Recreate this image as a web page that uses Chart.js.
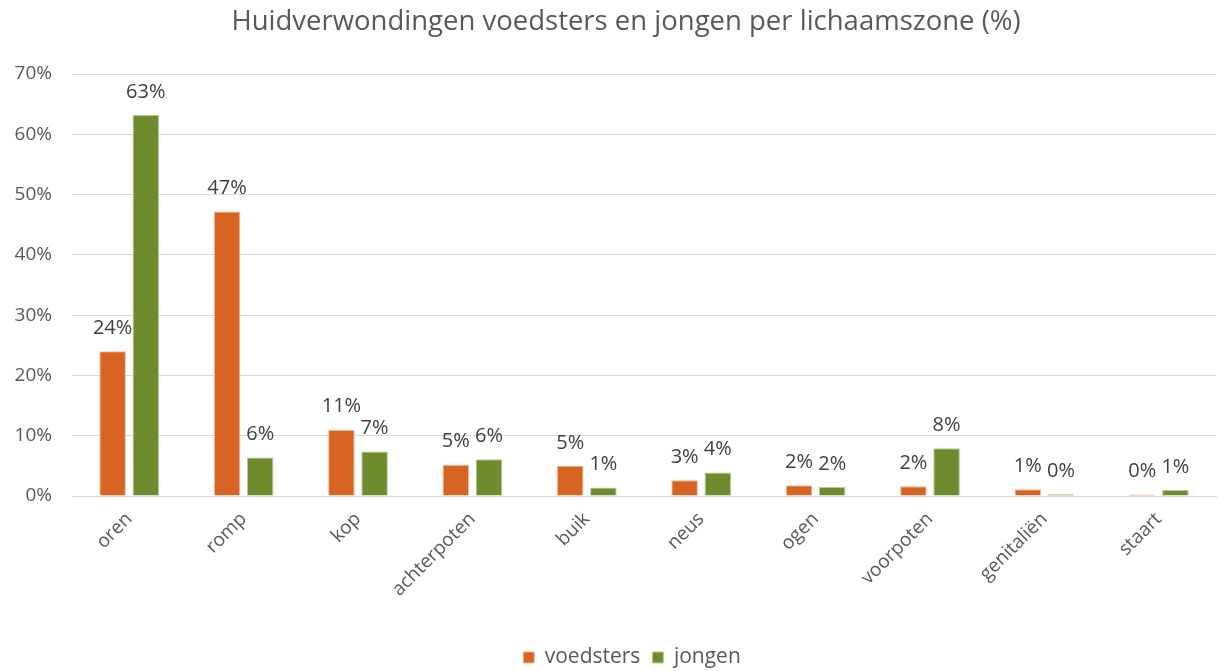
<!DOCTYPE html>
<html>
<head>
<meta charset="utf-8">
<title>Huidverwondingen</title>
<script src="https://cdn.jsdelivr.net/npm/chart.js@4/dist/chart.umd.min.js"></script>
<style>
    html, body { margin: 0; padding: 0; background: #ffffff; }
    #wrap { width: 1230px; height: 671px; }
</style>
</head>
<body>
<div id="wrap"><canvas id="chart"></canvas></div>
<script>
// Data (%)
const zones = ['oren', 'romp', 'kop', 'achterpoten', 'buik', 'neus', 'ogen', 'voorpoten', 'genitaliën', 'staart'];
const voedsters = [24.0, 47.2, 11.0, 5.2, 5.0, 2.6, 1.8, 1.6, 1.1, 0.25];
const jongen = [63.2, 6.4, 7.4, 6.1, 1.4, 3.9, 1.5, 7.9, 0.3, 1.0];
const yTicks = [0, 10, 20, 30, 40, 50, 60, 70];
const chartTitle = 'Huidverwondingen voedsters en jongen per lichaamszone (%)';

const fontFamily = "'Open Sans', 'Noto Sans', sans-serif";
const grey = '#595959';

// Value labels above the bars + title (centred like the original, a bit right of the canvas centre)
const valueLabels = {
    id: 'valueLabels',
    afterLayout(chart) {
        // legend in the original sits a little right of centre
        chart.legend.left += 24;
        chart.legend.right += 24;
    },
    afterDatasetsDraw(chart) {
        const ctx = chart.ctx;
        ctx.save();
        ctx.font = '20px ' + fontFamily;
        ctx.fillStyle = '#404040';
        ctx.textAlign = 'center';
        ctx.textBaseline = 'bottom';
        chart.data.datasets.forEach((ds, i) => {
            const meta = chart.getDatasetMeta(i);
            meta.data.forEach((bar, j) => {
                ctx.fillText(Math.round(ds.data[j]) + '%', bar.x, bar.y - 13);
            });
        });
        ctx.font = '27.5px ' + fontFamily;
        ctx.fillStyle = grey;
        ctx.textBaseline = 'middle';
        ctx.fillText(chartTitle, 626, 22);
        ctx.restore();
    }
};

new Chart(document.getElementById('chart'), {
    type: 'bar',
    data: {
        labels: zones,
        datasets: [{
            label: 'voedsters',
            data: voedsters,
            backgroundColor: '#D86423',
            borderColor: '#F0B89A',
            borderWidth: 1,
            barPercentage: 0.8,
            categoryPercentage: 0.58
        }, {
            label: 'jongen',
            data: jongen,
            backgroundColor: '#6E8C2D',
            borderColor: '#B5C894',
            borderWidth: 1,
            barPercentage: 0.8,
            categoryPercentage: 0.58
        }]
    },
    options: {
        responsive: true,
        maintainAspectRatio: false,
        animation: false,
        layout: { padding: { left: 0, right: 14, top: 74, bottom: -7 } },
        plugins: {
            title: { display: false },
            legend: {
                position: 'bottom',
                labels: {
                    color: grey,
                    font: { family: fontFamily, size: 21 },
                    boxWidth: 11,
                    boxHeight: 11,
                    padding: 12
                }
            },
            tooltip: { enabled: false }
        },
        scales: {
            y: {
                min: 0,
                max: 70,
                afterBuildTicks(scale) {
                    scale.ticks = yTicks.map(v => ({ value: v }));
                },
                afterFit(scale) { scale.width = 72; },
                ticks: {
                    color: grey,
                    font: { family: fontFamily, size: 19 },
                    padding: 20,
                    callback: v => v + '%'
                },
                grid: { color: '#D9D9D9', lineWidth: 1, drawTicks: false },
                border: { display: false }
            },
            x: {
                afterFit(scale) { scale.height = 139; },
                ticks: {
                    color: grey,
                    font: { family: fontFamily, size: 19 },
                    minRotation: 45,
                    maxRotation: 45,
                    padding: 4
                },
                grid: { display: false },
                border: { color: '#D9D9D9' }
            }
        }
    },
    plugins: [valueLabels]
});
</script>
</body>
</html>
